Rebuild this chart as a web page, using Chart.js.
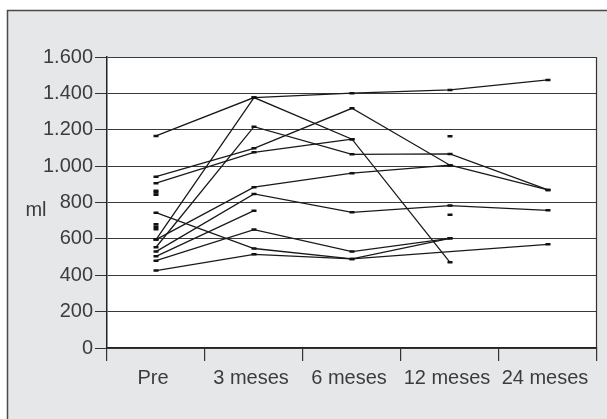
<!DOCTYPE html>
<html>
<head>
<meta charset="utf-8">
<script src="https://cdn.jsdelivr.net/npm/chart.js@4"></script>
<style>
  html, body { margin: 0; padding: 0; background: #fff; }
  #wrap { width: 607px; height: 419px; }
</style>
</head>
<body>
<div id="wrap"><canvas id="grafico" width="607" height="419"></canvas></div>
<script>
// Categorías del eje X
const meses = ['Pre', '3 meses', '6 meses', '12 meses', '24 meses'];

// Valores por paciente (ml), null = sin medición
const p01 = [596, 1377, 1401, 1419, 1474];
const p02 = [1166, 1377, 1148, 471, null];
const p03 = [554, 1217, 1065, 1067, 869];
const p04 = [942, 1098, 1318, 1005, 869];
const p05 = [906, 1076, 1148, null, null];
const p06 = [596, 884, 961, 1005, null];
const p07 = [530, 847, 746, 783, 757];
const p08 = [504, 755, null, null, null];
const p09 = [480, 651, 530, 603, null];
const p10 = [744, 547, 490, 603, null];
const p11 = [426, 515, 490, null, 570];

// Mediciones aisladas (sin línea)
const soloPre = [865, 855, 842, 680, 667, 653];
const solo12 = [1164, 733];

const yTicks = [0, 200, 400, 600, 800, 1000, 1200, 1400, 1600];

const fuente = { family: '"Liberation Sans", Arial, sans-serif', size: 20 };
const colorTexto = '#3c3c3c';

function estiloLinea(data) {
    return {
        data,
        borderColor: '#1a1a1a',
        borderWidth: 1.3,
        tension: 0,
        spanGaps: true,
        pointStyle: 'line',
        pointRadius: 2.5,
        pointBorderWidth: 2.5,
        pointBorderColor: '#111',
        pointBackgroundColor: '#111'
    };
}

const datasets = [p01, p02, p03, p04, p05, p06, p07, p08, p09, p10, p11].map(estiloLinea);
soloPre.forEach(v => datasets.push(estiloLinea([v, null, null, null, null])));
solo12.forEach(v => datasets.push(estiloLinea([null, null, null, v, null])));

// Fondo gris con marco, área blanca, borde derecho y rótulo "ml"
const marco = {
    id: 'marco',
    beforeDraw(chart) {
        const { ctx, chartArea } = chart;
        ctx.save();
        ctx.fillStyle = '#fff';
        ctx.fillRect(0, 0, chart.width, chart.height);
        ctx.fillStyle = '#e6e7e8';
        ctx.fillRect(7, 10, chart.width, chart.height);
        ctx.strokeStyle = '#4a4a4a';
        ctx.lineWidth = 1.5;
        ctx.beginPath();
        ctx.moveTo(7.5, chart.height + 2);
        ctx.lineTo(7.5, 10.5);
        ctx.lineTo(chart.width + 2, 10.5);
        ctx.stroke();
        ctx.fillStyle = '#fff';
        ctx.fillRect(chartArea.left, chartArea.top, chartArea.right - chartArea.left, chartArea.bottom - chartArea.top);
        ctx.restore();
    },
    afterDraw(chart) {
        const { ctx, chartArea } = chart;
        ctx.save();
        ctx.strokeStyle = '#333';
        ctx.lineWidth = 1.2;
        ctx.beginPath();
        ctx.moveTo(Math.round(chartArea.right) - 0.5, chartArea.top);
        ctx.lineTo(Math.round(chartArea.right) - 0.5, chartArea.bottom);
        ctx.stroke();
        ctx.fillStyle = colorTexto;
        ctx.font = fuente.size + 'px ' + fuente.family;
        ctx.textAlign = 'center';
        ctx.textBaseline = 'middle';
        ctx.fillText('ml', 36, 210);
        ctx.restore();
    }
};

new Chart(document.getElementById('grafico'), {
    type: 'line',
    data: { labels: meses, datasets },
    options: {
        responsive: false,
        animation: false,
        layout: { padding: { top: 57, right: 10, left: 0, bottom: 0 } },
        plugins: { legend: { display: false }, tooltip: { enabled: false } },
        scales: {
            x: {
                type: 'category',
                offset: true,
                afterFit(scale) { scale.height = 71; },
                grid: { offset: true, drawOnChartArea: false, drawTicks: true, tickLength: 13, color: '#333', lineWidth: 1.2 },
                border: { display: true, color: '#222', width: 1.2 },
                ticks: { color: colorTexto, font: fuente, padding: 5, maxRotation: 0, labelOffset: -3 }
            },
            y: {
                min: 0,
                max: 1600,
                afterFit(scale) { scale.width = 107; },
                afterBuildTicks(scale) { scale.ticks = yTicks.map(v => ({ value: v })); },
                grid: { color: '#3a3a3a', lineWidth: 1, drawTicks: true, tickLength: 12, tickColor: '#333' },
                border: { display: true, color: '#222', width: 1.5 },
                ticks: {
                    color: colorTexto,
                    font: fuente,
                    padding: 2,
                    callback: v => String(v).replace(/\B(?=(\d{3})+(?!\d))/g, '.')
                }
            }
        }
    },
    plugins: [marco]
});
</script>
</body>
</html>
